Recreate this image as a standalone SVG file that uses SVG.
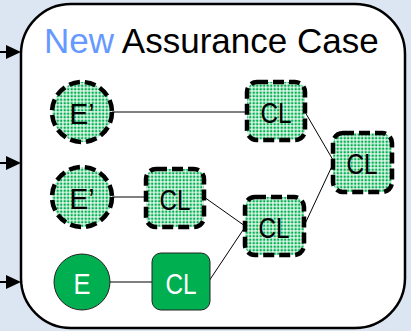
<svg xmlns="http://www.w3.org/2000/svg" width="411" height="331" viewBox="0 0 411 331">
  <defs>
    <pattern id="dots" width="3.5" height="3.5" patternUnits="userSpaceOnUse">
      <rect width="3.5" height="3.5" fill="#ffffff"/>
      <rect x="0.5" y="0.5" width="2.4" height="2.4" fill="#00b050"/>
    </pattern>
    <!-- incoming arrow: shaft plus head, tip at the origin -->
    <g id="inArrow">
      <line x1="-21" y1="0" x2="-12" y2="0" stroke="#000" stroke-width="2"/>
      <path d="M-15,-7 L0,0 L-15,7 Z" fill="#000"/>
    </g>
  </defs>
  <style>
    .txt { font-family: "Liberation Sans", "DejaVu Sans", sans-serif; }
    .new { fill: #00b050; stroke: #222; stroke-width: 1; }
    .old { fill: url(#dots); stroke: #000; stroke-width: 4.5; stroke-dasharray: 11 5; }
    .lbl { font-size: 30px; text-anchor: middle; dominant-baseline: central; }
    .edge { stroke: #000; stroke-width: 1; fill: none; }
  </style>

  <rect width="411" height="331" fill="#dce6f2"/>

  <!-- case frame -->
  <g id="frame">
    <rect x="21" y="4" width="384" height="324" rx="50" ry="50" fill="#ffffff" stroke="#000" stroke-width="2.5"/>
    <text class="txt" x="44" y="53" font-size="35"><tspan fill="#6699ff">New</tspan><tspan fill="#000"> Assurance Case</tspan></text>
  </g>

  <!-- incoming arrows -->
  <g id="inputs">
    <use href="#inArrow" x="21" y="52"/>
    <use href="#inArrow" x="21" y="163"/>
    <use href="#inArrow" x="21" y="282"/>
  </g>

  <!-- connectors -->
  <g id="connectors">
    <line class="edge" x1="112" y1="112" x2="247" y2="112"/>
    <line class="edge" x1="112" y1="197" x2="146" y2="197"/>
    <line class="edge" x1="110" y1="282" x2="152" y2="282"/>
    <line class="edge" x1="204" y1="197" x2="245" y2="226"/>
    <line class="edge" x1="209" y1="281" x2="245" y2="227"/>
    <line class="edge" x1="305" y1="112" x2="333" y2="160"/>
    <line class="edge" x1="304" y1="226" x2="333" y2="164"/>
  </g>

  <!-- nodes -->
  <g id="e1">
    <circle class="old" cx="82" cy="112" r="30"/>
    <text class="txt lbl" x="82" y="113" textLength="25" lengthAdjust="spacingAndGlyphs">E’</text>
  </g>
  <g id="e2">
    <circle class="old" cx="82" cy="197" r="30"/>
    <text class="txt lbl" x="82" y="198" textLength="25" lengthAdjust="spacingAndGlyphs">E’</text>
  </g>
  <g id="e3">
    <circle class="new" cx="82" cy="282" r="28"/>
    <text class="txt lbl" x="82" y="283" fill="#ffffff" textLength="17" lengthAdjust="spacingAndGlyphs">E</text>
  </g>
  <g id="cl1">
    <rect class="old" x="247" y="82" width="58" height="58" rx="10"/>
    <text class="txt lbl" x="276" y="112" textLength="31" lengthAdjust="spacingAndGlyphs">CL</text>
  </g>
  <g id="cl2">
    <rect class="old" x="146" y="169" width="58" height="58" rx="10"/>
    <text class="txt lbl" x="175" y="199" textLength="31" lengthAdjust="spacingAndGlyphs">CL</text>
  </g>
  <g id="cl3">
    <rect class="new" x="152" y="253" width="58" height="57" rx="9"/>
    <text class="txt lbl" x="181" y="283" fill="#ffffff" textLength="31" lengthAdjust="spacingAndGlyphs">CL</text>
  </g>
  <g id="cl4">
    <rect class="old" x="245" y="197" width="59" height="58" rx="10"/>
    <text class="txt lbl" x="274" y="227" textLength="31" lengthAdjust="spacingAndGlyphs">CL</text>
  </g>
  <g id="cl5">
    <rect class="old" x="333" y="133" width="59" height="59" rx="10"/>
    <text class="txt lbl" x="362" y="163" textLength="31" lengthAdjust="spacingAndGlyphs">CL</text>
  </g>
</svg>
